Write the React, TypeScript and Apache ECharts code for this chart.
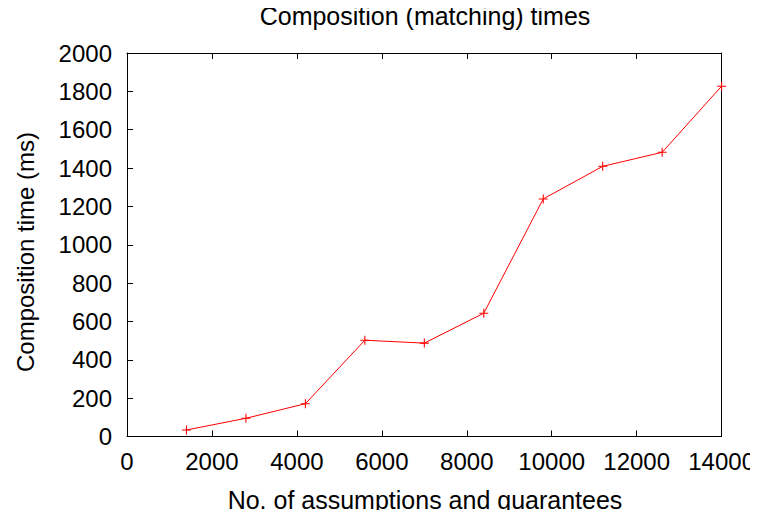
import React, { useEffect, useRef } from "react";
import * as echarts from "echarts";

const assumptions = [1400, 2800, 4200, 5600, 7000, 8400, 9800, 11200, 12600, 14000];
const compositionTimes = [34, 95, 171, 502, 487, 643, 1239, 1409, 1482, 1827];

const FONT = "'Liberation Sans', Arial, Helvetica, sans-serif";
const TICK_FONT_SIZE = 24;
const LABEL_FONT_SIZE = 25;

export default function App() {
  const ref = useRef<HTMLDivElement>(null);
  useEffect(() => {
    if (!ref.current) return;
    const chart = echarts.init(ref.current, undefined, { renderer: "svg" });
    const data = assumptions.map((x, i) => [x, compositionTimes[i]]);
    const plain = (v: number) => String(v);
    chart.setOption({
      animation: false,
      backgroundColor: "#ffffff",
      grid: { left: 127, right: 35, top: 53, bottom: 81.5, containLabel: false },
      xAxis: [
        {
          type: "value",
          min: 0,
          max: 14000,
          interval: 2000,
          position: "bottom",
          axisLine: { show: true, onZero: false, lineStyle: { color: "#000", width: 1 } },
          axisTick: { show: true, inside: true, length: 6, lineStyle: { color: "#000" } },
          axisLabel: { color: "#000", fontSize: TICK_FONT_SIZE, fontFamily: FONT, margin: 13, formatter: plain },
          splitLine: { show: false },
        },
        {
          type: "value",
          min: 0,
          max: 14000,
          interval: 2000,
          position: "top",
          axisLine: { show: true, onZero: false, lineStyle: { color: "#000", width: 1 } },
          axisTick: { show: true, inside: true, length: 6, lineStyle: { color: "#000" } },
          axisLabel: { show: false },
          splitLine: { show: false },
        },
      ],
      yAxis: [
        {
          type: "value",
          min: 0,
          max: 2000,
          interval: 200,
          position: "left",
          axisLine: { show: true, onZero: false, lineStyle: { color: "#000", width: 1 } },
          axisTick: { show: true, inside: true, length: 6, lineStyle: { color: "#000" } },
          axisLabel: { color: "#000", fontSize: TICK_FONT_SIZE, fontFamily: FONT, margin: 15, formatter: plain },
          splitLine: { show: false },
        },
        {
          type: "value",
          min: 0,
          max: 2000,
          interval: 200,
          position: "right",
          axisLine: { show: true, onZero: false, lineStyle: { color: "#000", width: 1 } },
          axisTick: { show: false },
          axisLabel: { show: false },
          splitLine: { show: false },
        },
      ],
      graphic: [
        {
          type: "text",
          x: 425,
          y: 16,
          style: {
            text: "Composition (matching) times",
            fontSize: LABEL_FONT_SIZE,
            fontFamily: FONT,
            fill: "#000",
            align: "center",
            verticalAlign: "middle",
          },
        },
        {
          type: "text",
          x: 425,
          y: 500,
          style: {
            text: "No. of assumptions and guarantees",
            fontSize: LABEL_FONT_SIZE,
            fontFamily: FONT,
            fill: "#000",
            align: "center",
            verticalAlign: "middle",
          },
        },
        {
          type: "text",
          x: 25,
          y: 252,
          rotation: Math.PI / 2,
          style: {
            text: "Composition time (ms)",
            fontSize: 24,
            fontFamily: FONT,
            fill: "#000",
            align: "center",
            verticalAlign: "middle",
          },
        },
      ],
      series: [
        {
          type: "line",
          xAxisIndex: 0,
          yAxisIndex: 0,
          data,
          symbol: "path://M4.4,0H5.6V4.4H10V5.6H5.6V10H4.4V5.6H0V4.4H4.4Z",
          symbolSize: 9,
          showSymbol: true,
          lineStyle: { color: "#ff0000", width: 1 },
          itemStyle: { color: "#ff0000" },
          z: 5,
        },
      ],
    });
    return () => chart.dispose();
  }, []);
  return <div ref={ref} style={{ width: 758, height: 518, margin: -8 }} />;
}
